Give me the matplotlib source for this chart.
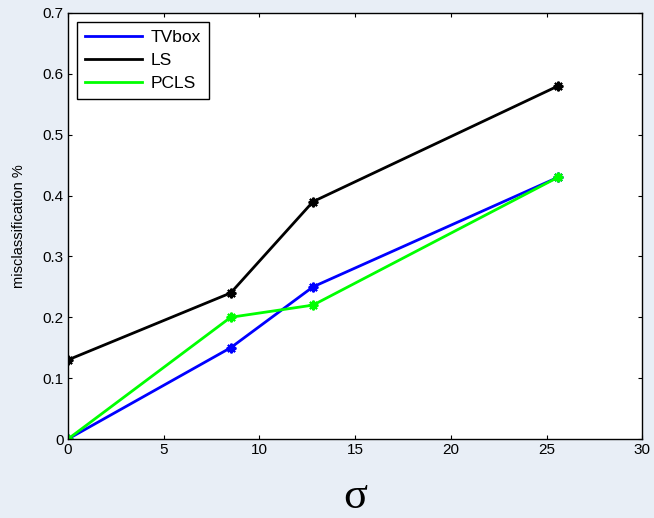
import matplotlib.pyplot as plt

# sigma values and misclassification for each method
sigma = [0, 8.5, 12.8, 25.6]
tvbox = [0, 0.15, 0.25, 0.43]
ls = [0.13, 0.24, 0.39, 0.58]
pcls = [0, 0.20, 0.22, 0.43]

xticks = [0, 5, 10, 15, 20, 25, 30]
yticks = [0, 0.1, 0.2, 0.3, 0.4, 0.5, 0.6, 0.7]
ytick_labels = ["0", "0.1", "0.2", "0.3", "0.4", "0.5", "0.6", "0.7"]

plt.rcParams['font.family'] = ['Liberation Sans', 'DejaVu Sans']

fig = plt.figure(figsize=(6.54, 5.18), dpi=100)
fig.patch.set_facecolor('#e8eef6')
ax = fig.add_axes([0.104, 0.1525, 0.878, 0.8225])
ax.set_facecolor('white')

ax.plot(sigma, tvbox, color='#0000ff', lw=2, marker=(8, 2, 0), ms=7, mew=1.5, label='TVbox')
ax.plot(sigma, ls, color='black', lw=2, marker=(8, 2, 0), ms=7, mew=1.5, label='LS')
ax.plot(sigma, pcls, color='#00ff00', lw=2, marker=(8, 2, 0), ms=7, mew=1.5, label='PCLS')

ax.set_xlim(0, 30)
ax.set_ylim(0, 0.7)
ax.set_xticks(xticks)
ax.set_yticks(yticks)
ax.set_yticklabels(ytick_labels)
ax.tick_params(direction='in', length=3, labelsize=11, top=True, right=True, pad=3)
for s in ax.spines.values():
    s.set_linewidth(1)

ax.set_ylabel('misclassification %', fontsize=10.5, labelpad=12)
ax.set_xlabel('σ', fontsize=32, family='Liberation Serif', labelpad=14)

leg = ax.legend(loc='upper left', bbox_to_anchor=(0.0157, 0.979), borderaxespad=0,
                fancybox=False, framealpha=1, edgecolor='black', fontsize=12.5,
                handlelength=3.3, borderpad=0.45, labelspacing=0.45, handletextpad=0.5)
leg.get_frame().set_linewidth(1)
for h in leg.legend_handles:
    h.set_marker('')

fig.savefig('out.png', dpi=100, facecolor=fig.get_facecolor())
